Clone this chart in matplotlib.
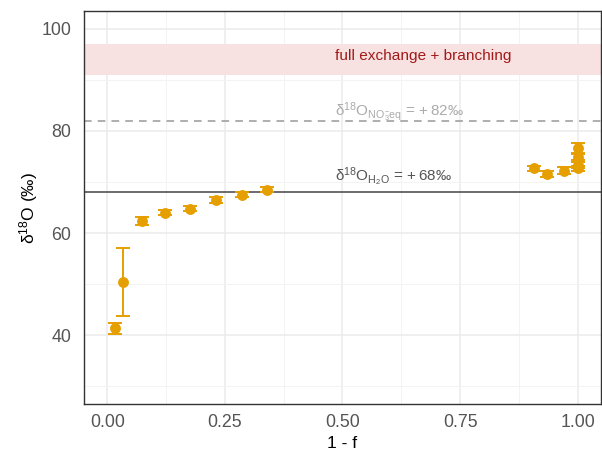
import matplotlib
matplotlib.use("Agg")
import matplotlib.pyplot as plt
from matplotlib.ticker import MultipleLocator

plt.rcParams['font.family'] = ['Liberation Sans', 'DejaVu Sans']
plt.rcParams['mathtext.fontset'] = 'custom'
plt.rcParams['mathtext.rm'] = 'Liberation Sans'
plt.rcParams['mathtext.it'] = 'Liberation Sans:italic'
plt.rcParams['mathtext.default'] = 'regular'

# Measurements: fraction reacted vs. oxygen isotope composition
one_minus_f = [0.017, 0.033, 0.074, 0.123, 0.176, 0.231, 0.286, 0.339,
               0.907, 0.934, 0.971, 1.0, 1.0, 1.0, 1.0]
d18O = [41.3, 50.4, 62.3, 64.0, 64.8, 66.4, 67.5, 68.5,
        72.7, 71.6, 72.2, 76.7, 74.9, 73.3, 72.7]
d18O_err = [1.1, 6.7, 0.8, 0.5, 0.5, 0.6, 0.5, 0.5,
            0.5, 0.6, 0.7, 1.0, 0.6, 0.6, 0.5]

# Reference values
d18O_H2O = 68
d18O_NO3_eq = 82
band_low, band_high = 91, 97

fig = plt.figure(figsize=(6.02, 4.53), dpi=100)
ax = fig.add_axes([84 / 602, 1 - 404 / 453, 517 / 602, 393 / 453])

ax.set_xlim(-0.0495, 1.0495)
ax.set_ylim(26.5, 103.5)

# grid
ax.xaxis.set_major_locator(MultipleLocator(0.25))
ax.xaxis.set_minor_locator(MultipleLocator(0.125))
ax.yaxis.set_major_locator(MultipleLocator(20))
ax.yaxis.set_minor_locator(MultipleLocator(10))
ax.grid(which='major', color='#EBEBEB', lw=1.1, zorder=0)
ax.grid(which='minor', color='#F3F3F3', lw=0.7, zorder=0)
ax.set_axisbelow(True)

# band for full exchange + branching
ax.axhspan(band_low, band_high, color='#F8E1E1', lw=0, zorder=1)
ax.text(0.485, (band_low + band_high) / 2 + 0.7, 'full exchange + branching',
        color='#A11A1A', fontsize=11.1, ha='left', va='center', zorder=5)

# equilibrium line
ax.axhline(d18O_NO3_eq, color='#999999', lw=1.1, ls=(0, (5, 4)), zorder=2)
ax.text(0.485, d18O_NO3_eq + 1.6,
        r'$\delta^{18}O_{NO_3^{-}eq}$ = +' + f'\u2009{d18O_NO3_eq}‰',
        color='#ABABAB', fontsize=11, ha='left', va='center', zorder=5)

# water line
ax.axhline(d18O_H2O, color='#444444', lw=1.1, zorder=2)
ax.text(0.485, d18O_H2O + 3.0,
        r'$\delta^{18}O_{H_2O}$ = +' + f'\u2009{d18O_H2O}‰',
        color='#555555', fontsize=11, ha='left', va='center', zorder=5)

# data
ax.errorbar(one_minus_f, d18O, yerr=d18O_err, fmt='o', color='#E69F00',
            ms=6.8, elinewidth=1.4, capsize=5.2, capthick=1.4, zorder=4)

for s in ax.spines.values():
    s.set_color('#333333')
    s.set_linewidth(1.0)

ax.set_xticks([0, 0.25, 0.5, 0.75, 1.0])
ax.set_xticklabels(['0.00', '0.25', '0.50', '0.75', '1.00'])
ax.tick_params(which='both', length=0, labelsize=12.8, labelcolor='#555555')
ax.tick_params(axis='y', pad=9)
ax.tick_params(axis='x', pad=7)

ax.set_xlabel('1 - f', fontsize=12.5, labelpad=4)
ax.set_ylabel(r'$\delta^{18}O$ (‰)', fontsize=12.5, labelpad=1)

fig.savefig('out.png', dpi=100)
